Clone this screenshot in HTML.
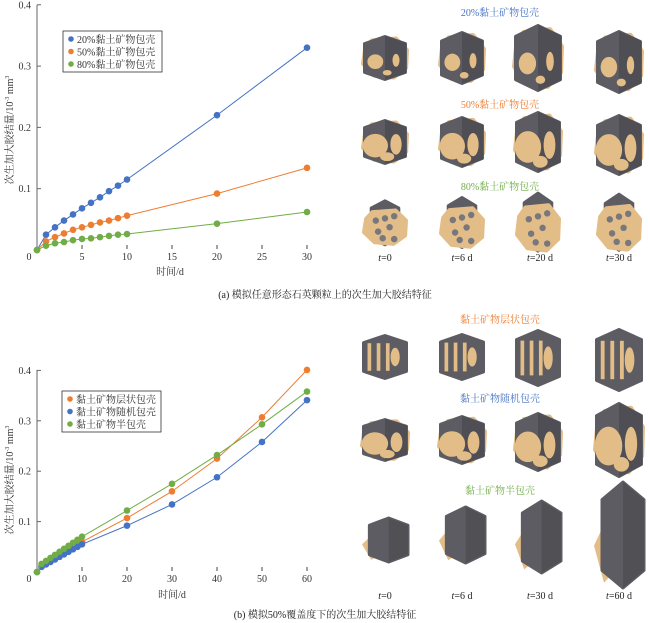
<!DOCTYPE html>
<html><head><meta charset="utf-8"><style>
html,body{margin:0;padding:0;background:#fff;}
svg{display:block;font-family:"Liberation Serif","Noto Serif CJK SC","Noto Sans CJK SC",serif;}
</style></head><body>
<svg id="s" width="650" height="623" viewBox="0 0 650 623" xmlns="http://www.w3.org/2000/svg"></svg>
<script>
const S=document.getElementById('s');let h='';
const B='#4472c4',O='#ed7d31',G='#70ad47';
function chart(x0,ybase,ytop,xs,ys,xt,yt,series,ylab){
  const X=t=>x0+t*xs, Y=v=>ybase-v*ys;
  h+=`<line x1="${x0}" y1="${ytop}" x2="${x0}" y2="${ybase}" stroke="#999" stroke-width="1.5"/>`;
  yt.forEach(v=>{h+=`<line x1="${x0}" x2="${x0+4}" y1="${Y(v)}" y2="${Y(v)}" stroke="#666"/><text x="${x0-6}" y="${Y(v)+3.5}" font-size="10" text-anchor="end" fill="#333">${v.toFixed(1)}</text>`;});
  xt.forEach(t=>{if(t>0)h+=`<line x1="${X(t)}" x2="${X(t)}" y1="${ybase-5}" y2="${ybase-1}" stroke="#444"/>`;h+=`<text x="${t==0?29:X(t)}" y="${ybase+10}" font-size="10" text-anchor="middle" fill="#333">${t}</text>`;});
  series.forEach(s=>{let p=s.d.map(a=>X(a[0])+','+Y(a[1])).join(' ');
    h+=`<polyline points="${p}" fill="none" stroke="${s.c}" stroke-width="1"/>`;
    s.d.forEach(a=>h+=`<circle cx="${X(a[0])}" cy="${Y(a[1])}" r="3.3" fill="${s.c}"/>`);});
  h+=`<text transform="translate(13,${ylab}) rotate(-90)" font-size="10" text-anchor="middle" fill="#333">次生加大胶结量/10<tspan font-size="6" dy="-4">-3</tspan><tspan dy="4"> mm</tspan><tspan font-size="6" dy="-4">3</tspan></text>`;
}
function mk(ts,vs){return ts.map((t,i)=>[t,vs[i]]);}
const t1=[0,1,2,3,4,5,6,7,8,9,10,20,30];
chart(37,250,5,9,613,[0,5,10,15,20,25,30],[0.1,0.2,0.3,0.4],[
 {c:B,d:mk(t1,[0,.025,.037,.048,.058,.068,.077,.086,.096,.105,.115,.22,.33])},
 {c:O,d:mk(t1,[0,.014,.021,.027,.033,.037,.041,.045,.048,.052,.056,.092,.134])},
 {c:G,d:mk(t1,[0,.007,.011,.013,.016,.018,.019,.021,.023,.025,.026,.043,.062])}],130);
const t2=[0,1,2,3,4,5,6,7,8,9,10,20,30,40,50,60];
function lin(a,b){let r=[0];for(let i=1;i<=10;i++)r.push(a+(b-a)*(i-1)/9);return r;}
chart(37,572,370,4.5,504,[0,10,20,30,40,50,60],[0.1,0.2,0.3,0.4],[
 {c:O,d:mk(t2,lin(.012,.06).concat([.107,.16,.225,.307,.401]))},
 {c:B,d:mk(t2,lin(.01,.055).concat([.092,.134,.188,.258,.341]))},
 {c:G,d:mk(t2,lin(.016,.07).concat([.122,.175,.232,.293,.358]))}],480);
h+=`<text x="170" y="275" font-size="10" text-anchor="middle" fill="#333">时间/d</text>`;
h+=`<text x="172" y="598" font-size="10" text-anchor="middle" fill="#333">时间/d</text>`;
function leg(x,y,items){h+=`<rect x="${x}" y="${y}" width="99" height="41" fill="#fff" stroke="#333" stroke-width="0.8"/>`;
 items.forEach((it,i)=>{h+=`<circle cx="${x+8}" cy="${y+8+i*12.5}" r="2.8" fill="${it[0]}"/><text x="${x+14}" y="${y+12+i*12.5}" font-size="10" fill="#333">${it[1]}</text>`;});}
leg(63,31,[[B,'20%黏土矿物包壳'],[O,'50%黏土矿物包壳'],[G,'80%黏土矿物包壳']]);
leg(62,391,[[O,'黏土矿物层状包壳'],[B,'黏土矿物随机包壳'],[G,'黏土矿物半包壳']]);
h+=`<text x="325" y="298" font-size="10" text-anchor="middle" fill="#222">(a) 模拟任意形态石英颗粒上的次生加大胶结特征</text>`;
h+=`<text x="325" y="618" font-size="10" text-anchor="middle" fill="#222">(b) 模拟50%覆盖度下的次生加大胶结特征</text>`;
[[500,16,B,'20%黏土矿物包壳'],[500,108,O,'50%黏土矿物包壳'],[500,190,G,'80%黏土矿物包壳'],[500,323,O,'黏土矿物层状包壳'],[500,402,B,'黏土矿物随机包壳'],[500,494,G,'黏土矿物半包壳']].forEach(l=>h+=`<text x="${l[0]}" y="${l[1]}" font-size="10" text-anchor="middle" fill="${l[2]}">${l[3]}</text>`);
function tl(y,arr){const xs=[385,462,540,619];arr.forEach((a,i)=>h+=`<text x="${xs[i]}" y="${y}" font-size="10" text-anchor="middle" fill="#222"><tspan font-style="italic">t</tspan>=${a}</text>`);}
tl(261,['0','6 d','20 d','30 d']);tl(599,['0','6 d','30 d','60 d']);
const GR='#5c5c62',GD='#3e3e44',TN='#e3bd88';
function hex(cx,cy,w,hh,f){return `<polygon points="${cx},${cy-hh/2} ${cx+w/2},${cy-hh/3} ${cx+w/2},${cy+hh/3} ${cx},${cy+hh/2} ${cx-w/2},${cy+hh/3} ${cx-w/2},${cy-hh/3}" fill="${f}" stroke="${f}" stroke-width="3" stroke-linejoin="round"/>`;}
function blob(cx,cy,w,hh,f){return `<polygon points="${cx-w*.3},${cy-hh*.45} ${cx+w*.25},${cy-hh*.5} ${cx+w*.5},${cy-hh*.2} ${cx+w*.48},${cy+hh*.25} ${cx+w*.2},${cy+hh*.5} ${cx-w*.25},${cy+hh*.45} ${cx-w*.5},${cy+hh*.15} ${cx-w*.45},${cy-hh*.25}" fill="${f}" stroke="${f}" stroke-width="4" stroke-linejoin="round"/>`;}
function cr(cx,cy,w,hh,k){
 if(k=='g'||k=='m'){h+=blob(cx,cy,w,hh*0.85,TN);h+=hex(cx,cy,w-3,hh-3,GR);
  h+=`<polygon points="${cx},${cy-hh/2+1} ${cx+w/2-1},${cy-hh/3} ${cx+w/2-1},${cy+hh/3} ${cx},${cy+hh/2-1}" fill="${GD}" opacity=".45"/>`;
  const n=k=='m'?1.6:1;
  h+=`<ellipse cx="${cx-w*.22}" cy="${cy+hh*.08}" rx="${w*.18*n}" ry="${hh*.16*n}" fill="${TN}"/><ellipse cx="${cx+w*.25}" cy="${cy+hh*.05}" rx="${w*.08*n}" ry="${hh*.14*n}" fill="${TN}"/><ellipse cx="${cx+w*.05}" cy="${cy+hh*.32}" rx="${w*.1*n}" ry="${hh*.06*n}" fill="${TN}"/>`;}
 if(k=='t'){h+=hex(cx,cy-hh*.05,w*.6,hh*1.0,GR);h+=blob(cx,cy+hh*.05,w-4,hh*.85-4,TN);
  [[-.2,-.1],[0,-.15],[.1,.05],[-.15,.15],[.2,-.2],[-.05,.3],[.2,.32]].forEach(p=>h+=`<circle cx="${cx+p[0]*w}" cy="${cy+p[1]*hh}" r="${w*.07}" fill="#77777d"/>`);}
 if(k=='s'){h+=hex(cx,cy,w-3,hh-3,GR);for(let i=0;i<3;i++)h+=`<rect x="${cx-w*.38+i*w*.2}" y="${cy-hh*.3}" width="${w*.08}" height="${hh*.6}" fill="${TN}"/>`;
  h+=`<ellipse cx="${cx+w*.22}" cy="${cy}" rx="${w*.1}" ry="${hh*.2}" fill="${TN}"/>`;}
 if(k=='h'){h+=`<polygon points="${cx-w*.5},${cy+hh*.1} ${cx-w*.2},${cy-hh*.2} ${cx},${cy+hh*.3} ${cx-w*.3},${cy+hh*.45}" fill="${TN}"/>`;h+=hex(cx+w*.08,cy,w*.84,hh,GR);
  h+=`<polygon points="${cx+w*.08},${cy-hh/2} ${cx+w*.5},${cy-hh/3} ${cx+w*.5},${cy+hh/3} ${cx+w*.08},${cy+hh/2}" fill="${GD}" opacity=".4"/>`;}
}
const X4=[385,462,538,619];
[[58,44,46],[58,44,54],[58,48,68],[62,46,64]].forEach((c,i)=>cr(X4[i],c[0],c[1],c[2],'g'));
[[142,44,46],[142,44,52],[142,46,62],[145,46,62]].forEach((c,i)=>cr(X4[i],c[0],c[1],c[2],'m'));
[[225,46,44],[225,46,50],[225,46,58],[225,46,56]].forEach((c,i)=>cr(X4[i],c[0],c[1],c[2],'t'));
[[357,46,46],[357,46,48],[358,46,58],[360,48,64]].forEach((c,i)=>cr(X4[i],c[0],c[1],c[2],'s'));
[[440,46,44],[440,46,50],[442,46,60],[440,48,76]].forEach((c,i)=>cr(X4[i],c[0],c[1],c[2],'m'));
[[540,46,44],[535,46,56],[537,46,72],[535,50,106]].forEach((c,i)=>cr(X4[i],c[0],c[1],c[2],'h'));
S.innerHTML=h;
</script>
</body></html>
